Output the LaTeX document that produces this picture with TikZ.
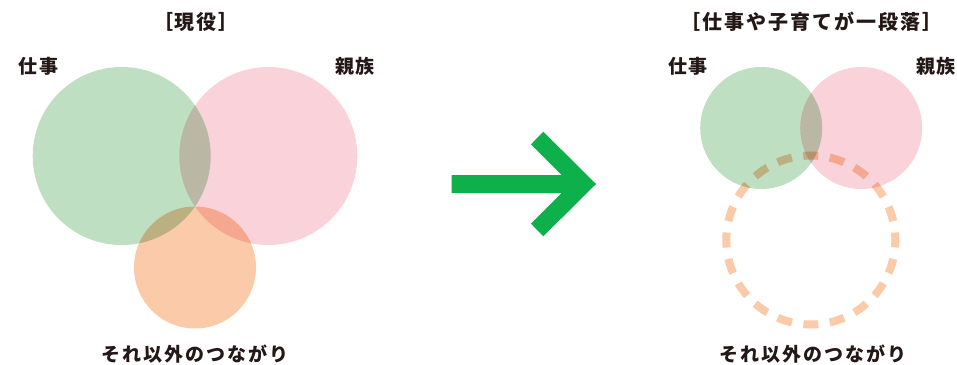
\documentclass[tikz,border=0pt]{standalone}
\usepackage{fontspec}
\newfontfamily\jpfont{Noto Sans CJK JP}[LetterSpace=10]
\definecolor{workgreen}{HTML}{BFDFC3}
\definecolor{kinpink}{HTML}{F9D3D9}
\definecolor{otherorange}{HTML}{FBCAA9}
\definecolor{arrowgreen}{HTML}{0DB04B}
\definecolor{inkgray}{HTML}{231815}

\begin{document}
\begin{tikzpicture}[x=1pt,y=-1pt,
  lbl/.style={font=\jpfont\bfseries\fontsize{19}{19}\selectfont,text=inkgray,inner sep=0pt},
  ttl/.style={lbl,font=\jpfont\bfseries\fontsize{20}{20}\selectfont},
  disc/.style={circle,inner sep=0pt,minimum size=#1}]
\useasboundingbox (0,0) rectangle (957,364);

\begin{scope}[blend group=multiply]
\node[disc=178pt,fill=workgreen] (workA) at (121.7,156) {};
\node[disc=178pt,fill=kinpink] (kinA) at (268.3,156) {};
\node[disc=122pt,fill=otherorange] (otherA) at (195,267.5) {};
\end{scope}

\node[ttl] (titleA) at (196,21.7) {［現役］};
\node[lbl] (workAlbl) at (38.5,66.7) {仕事};
\node[lbl] (kinAlbl) at (355,66.7) {親族};
\node[lbl] (otherAlbl) at (195,354.5) {それ以外のつながり};

\fill[arrowgreen] (451.7,175) -- (561.7,175) -- (531,144.3) -- (543.3,131.7)
  -- (596,184) -- (543.3,236.3) -- (531,223.7) -- (561.7,193) -- (451.7,193) -- cycle;

\begin{scope}[blend group=multiply]
\node[disc=122pt,fill=workgreen] (workB) at (761.2,128) {};
\node[disc=122pt,fill=kinpink] (kinB) at (861.2,128) {};
\node[disc=169pt,draw=otherorange,line width=8pt,
  dash pattern=on 15pt off 11.55pt,dash phase=7.5pt] (otherB) at (810.8,240) {};
\end{scope}

\node[ttl] (titleB) at (811.5,21.7) {［仕事や子育てが一段落］};
\node[lbl] (workBlbl) at (688,66.7) {仕事};
\node[lbl] (kinBlbl) at (936,66.7) {親族};
\node[lbl] (otherBlbl) at (813,354.5) {それ以外のつながり};
\end{tikzpicture}
\end{document}
